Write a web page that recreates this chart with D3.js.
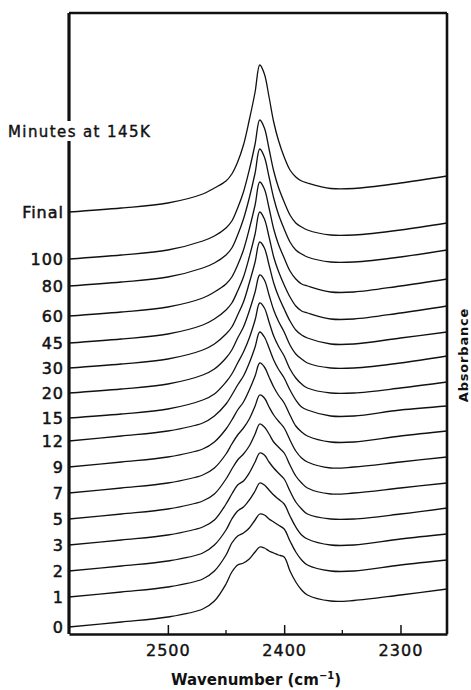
<!DOCTYPE html>
<html>
<head>
<meta charset="utf-8">
<script src="https://cdn.jsdelivr.net/npm/d3@7"></script>
<style>
body { margin: 0; background: #fff; }
text { font-family: "DejaVu Sans", sans-serif; fill: #111; }
</style>
</head>
<body>
<svg width="471" height="690"></svg>
<script>
// wavenumbers (cm-1) where each trace was read
var wavenumbers = [2585, 2540, 2500, 2470, 2460, 2450, 2445, 2440, 2435, 2430, 2425, 2421, 2417,
                   2413, 2409, 2405, 2400, 2395, 2390, 2385, 2380, 2360, 2340, 2300, 2260];

var times = ['0', '1', '2', '3', '5', '7', '9', '12', '15', '20', '30', '45', '60', '80', '100', 'Final'];

// vertical offset of each trace (stacking)
var offsets = [7, 37, 63, 89, 115, 141, 167, 193, 216, 241, 266, 291, 318, 348, 375, 422];

// absorbance above each trace's own offset
var s0   = [0, 5, 10, 18, 26, 43, 55, 62, 64, 68, 75, 80, 79, 76, 74, 72, 70, 56, 45, 37, 32, 26, 26.5, 32, 38];
var s1   = [0, 5, 10, 18, 26, 42, 54, 61, 64, 69, 77, 83, 82, 78, 75, 72, 68, 56, 45, 37, 32, 26, 26, 32, 37];
var s2   = [0, 5, 10, 18, 26, 41, 52, 60, 64, 71, 80, 88, 86, 81, 76, 72, 67, 55, 44, 36, 32, 26, 26, 32, 37];
var s3   = [0, 5, 10, 18, 25, 41, 51, 60, 64, 72, 83, 92, 90, 83, 77, 72, 66, 54, 43, 36, 31, 26, 26, 31, 37];
var s5   = [0, 5, 10, 18, 25, 40, 50, 59, 65, 73, 85, 95, 92, 85, 77, 72, 66, 54, 43, 36, 31, 25, 26, 31, 36];
var s7   = [0, 5, 10, 18, 25, 39, 49, 58, 65, 74, 87, 98, 95, 86, 78, 72, 65, 53, 42, 35, 31, 25, 26, 31, 36];
var s9   = [0, 5, 10, 18, 25, 38, 47, 57, 65, 77, 91, 104, 100, 90, 80, 72, 64, 52, 41, 35, 31, 25, 25, 31, 36];
var s12  = [0, 5, 10, 18, 25, 37, 46, 56, 65, 78, 94, 109, 104, 93, 81, 72, 63, 51, 41, 34, 31, 25, 25, 31, 35];
var s15  = [0, 4, 9, 18, 24, 36, 44, 55, 66, 80, 98, 115, 110, 96, 82, 72, 62, 49, 40, 34, 30, 25, 25, 30, 36];
var s20  = [0, 4, 9, 18, 24, 35, 43, 55, 66, 82, 101, 118, 113, 98, 83, 72, 61, 48, 39, 34, 30, 25, 25, 30, 37];
var s30  = [0, 4, 9, 18, 24, 34, 41, 53, 66, 85, 106, 126, 120, 103, 85, 72, 59, 47, 38, 33, 30, 24, 24, 30, 36];
var s45  = [0, 4, 9, 18, 24, 33, 40, 52, 66, 86, 109, 131, 124, 106, 86, 72, 58, 46, 37, 32, 30, 24, 24, 30, 37];
var s60  = [0, 4, 9, 18, 24, 32, 39, 51, 66, 87, 111, 134, 127, 108, 87, 72, 58, 45, 37, 32, 30, 24, 24, 30, 37];
var s80  = [0, 4, 9, 18, 23, 31, 38, 51, 67, 88, 113, 137, 129, 109, 88, 72, 57, 44, 36, 32, 29, 24, 24, 29, 36];
var s100 = [0, 4, 9, 18, 23, 31, 38, 51, 67, 89, 115, 139, 131, 110, 88, 72, 57, 44, 36, 32, 29, 24, 24, 29, 36];
var sFin = [0, 4, 9, 18, 24, 31, 38, 50, 67, 92, 120, 147, 138, 115, 90, 72, 55, 42, 35, 31, 29, 23.5, 23.5, 29, 36];

var spectra = [s0, s1, s2, s3, s5, s7, s9, s12, s15, s20, s30, s45, s60, s80, s100, sFin];

var majorTicks = [2500, 2400, 2300];
var minorTicks = [2450, 2350];

var svg = d3.select('svg');

var plotLeft = 69, plotRight = 447, plotTop = 13, plotBottom = 634;

var x = d3.scaleLinear().domain([2585, 2260]).range([plotLeft, plotRight]);
var y = d3.scaleLinear().domain([0, 621]).range([plotBottom, plotTop]);

var line = d3.line()
    .x(function(d){ return x(d.wn) })
    .y(function(d){ return y(d.a) })
    .curve(d3.curveCatmullRom.alpha(0.5));

svg.selectAll('path.trace')
    .data(spectra)
    .enter()
    .append('path')
    .attr('class', 'trace')
    .attr('fill', 'none')
    .attr('stroke', '#111')
    .attr('stroke-width', 1.3)
    .attr('d', function(s, i){
        return line(s.map(function(v, j){
            return {wn: wavenumbers[j], a: v + offsets[i]}
        }))
    });

// frame
svg.append('line').attr('x1', plotLeft).attr('x2', plotLeft).attr('y1', plotTop).attr('y2', plotBottom)
    .attr('stroke', '#111').attr('stroke-width', 3.2);
svg.append('line').attr('x1', plotLeft).attr('x2', plotRight).attr('y1', plotTop).attr('y2', plotTop)
    .attr('stroke', '#111').attr('stroke-width', 2.4);
svg.append('line').attr('x1', plotRight).attr('x2', plotRight).attr('y1', plotTop).attr('y2', plotBottom)
    .attr('stroke', '#111').attr('stroke-width', 2.6);

// bottom axis, ticks pointing inward
var xAxis = d3.axisBottom(x)
    .tickValues(majorTicks)
    .tickSizeInner(-9)
    .tickSizeOuter(0)
    .tickPadding(11)
    .tickFormat(d3.format('d'));

var gx = svg.append('g')
    .attr('transform', 'translate(0,' + plotBottom + ')')
    .call(xAxis);
gx.select('.domain').attr('stroke', '#111').attr('stroke-width', 2.6);
gx.selectAll('.tick line').attr('stroke', '#111').attr('stroke-width', 1.5);
gx.selectAll('.tick text')
    .style('font-family', '"DejaVu Sans", sans-serif')
    .style('font-size', '16px')
    .style('letter-spacing', '1px')
    .attr('fill', '#111')
    .attr('stroke', '#111')
    .attr('stroke-width', 0.4);

gx.selectAll('line.minor')
    .data(minorTicks)
    .enter()
    .append('line')
    .attr('class', 'minor')
    .attr('x1', function(d){ return x(d) })
    .attr('x2', function(d){ return x(d) })
    .attr('y1', 0)
    .attr('y2', -4)
    .attr('stroke', '#111')
    .attr('stroke-width', 1.3);

// time labels at the left end of each trace
svg.selectAll('text.time')
    .data(times)
    .enter()
    .append('text')
    .attr('class', 'time')
    .attr('x', 64)
    .attr('y', function(d, i){ return y(offsets[i]) + 6 })
    .attr('text-anchor', 'end')
    .attr('stroke', '#111')
    .attr('stroke-width', 0.5)
    .style('font-size', '16px')
    .style('letter-spacing', '1px')
    .text(function(d){ return d });

svg.append('rect')
    .attr('x', 6).attr('y', 121).attr('width', 152).attr('height', 20)
    .attr('fill', '#fff');
svg.append('text')
    .attr('x', 8)
    .attr('y', 137)
    .attr('stroke', '#111')
    .attr('stroke-width', 0.4)
    .style('font-size', '15px')
    .style('letter-spacing', '1.4px')
    .text('Minutes at 145K');

var xt = svg.append('text')
    .attr('x', 256)
    .attr('y', 685)
    .attr('text-anchor', 'middle')
    .style('font-size', '15px')
    .style('font-weight', 'bold');
xt.append('tspan').text('Wavenumber (cm');
xt.append('tspan').attr('dy', -6).style('font-size', '10px').text('−1');
xt.append('tspan').attr('dy', 6).text(')');

svg.append('text')
    .attr('transform', 'translate(463,355) rotate(-90)')
    .attr('text-anchor', 'middle')
    .attr('dy', '0.35em')
    .style('font-size', '13px')
    .style('letter-spacing', '0.8px')
    .style('font-weight', 'bold')
    .text('Absorbance');
</script>
</body>
</html>
